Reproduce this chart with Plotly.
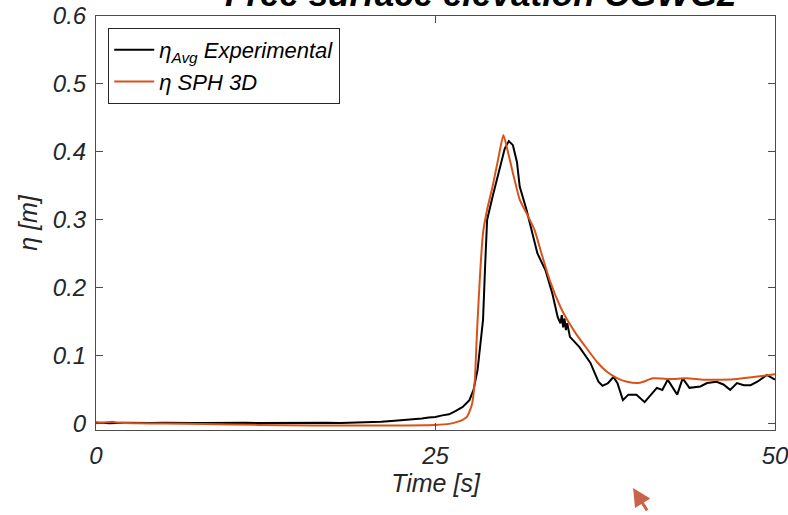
import plotly.graph_objects as go

# ---- data ----
t_exp = [0, 1, 2, 3, 4, 5, 6, 7, 8, 9, 10, 11, 12, 13, 14, 15, 16, 17, 18, 19,
         20, 21, 22, 23, 23.5, 24, 24.5, 25, 25.5, 26, 26.5, 27, 27.5, 27.8, 28.1,
         28.3, 28.5, 28.65, 28.8, 29.2, 29.7, 30.1, 30.4, 30.7, 31.0, 31.2, 31.7,
         32.1, 32.5, 33.1, 33.6, 34.0, 34.2, 34.3, 34.4, 34.5, 34.6, 34.7, 34.9,
         35.6, 36.4, 37.0, 37.3, 37.7, 38.1, 38.4, 38.8, 39.2, 39.8, 40.4, 40.9,
         41.3, 41.7, 42.1, 42.8, 43.2, 43.7, 44.5, 45.0, 45.7, 46.2, 46.7, 47.2,
         47.7, 48.2, 48.7, 49.4, 50]
eta_exp = [0.002, 0.001, 0.0015, 0.001, 0.0012, 0.0015, 0.001, 0.0013, 0.0012, 0.0015,
           0.0012, 0.0017, 0.0013, 0.0015, 0.0012, 0.0017, 0.0013, 0.0018, 0.0014, 0.0018,
           0.0025, 0.0032, 0.0045, 0.006, 0.0075, 0.008, 0.0095, 0.010, 0.0125, 0.014,
           0.019, 0.025, 0.035, 0.050, 0.080, 0.120, 0.153, 0.230, 0.300, 0.334, 0.373,
           0.405, 0.416, 0.410, 0.385, 0.349, 0.315, 0.281, 0.251, 0.226, 0.192, 0.157,
           0.148, 0.160, 0.142, 0.155, 0.138, 0.148, 0.128, 0.113, 0.090, 0.062, 0.056,
           0.060, 0.069, 0.060, 0.035, 0.043, 0.043, 0.032, 0.043, 0.053, 0.050, 0.065,
           0.043, 0.067, 0.053, 0.055, 0.060, 0.062, 0.058, 0.050, 0.060, 0.057, 0.057,
           0.062, 0.072, 0.065]

t_sph = [0, 0.6, 1.2, 1.8, 3, 5, 8, 12, 16, 20, 25, 26, 26.6, 27.0, 27.3, 27.5, 27.7,
         27.9, 28.0, 28.1, 28.3, 28.5, 28.8, 29.2, 29.6, 30.0, 30.3, 30.7, 31.2, 31.7,
         32.3, 32.8, 33.4, 34.2, 34.7, 35.4, 36.1, 36.9, 37.6, 38.4, 39.1, 39.9, 40.3,
         41.0, 42.3, 43.5, 44.7, 46.0, 47.2, 48.4, 50.0]
eta_sph = [0.001, 0.002, 0.003, 0.0015, 0.001, 0.0005, 0.0, -0.0015, -0.0025, -0.0025,
           -0.0015, 0.0, 0.003, 0.006, 0.010, 0.018, 0.030, 0.065, 0.110, 0.153, 0.226,
           0.281, 0.315, 0.349, 0.388, 0.425, 0.403, 0.369, 0.330, 0.310, 0.285, 0.251,
           0.212, 0.172, 0.153, 0.131, 0.112, 0.091, 0.077, 0.067, 0.062, 0.060, 0.062,
           0.067, 0.066, 0.067, 0.065, 0.065, 0.066, 0.069, 0.073]

x_ticks = [0, 25, 50]
y_ticks = [0, 0.1, 0.2, 0.3, 0.4, 0.5, 0.6]
y_tick_labels = ["0", "0.1", "0.2", "0.3", "0.4", "0.5", "0.6"]

FONT = "Liberation Sans, Arial, sans-serif"
TXT = "#262626"

fig = go.Figure()
fig.add_trace(go.Scatter(x=t_exp, y=eta_exp, mode="lines",
                         name="η<sub>Avg</sub> Experimental",
                         line=dict(color="#000000", width=2)))
fig.add_trace(go.Scatter(x=t_sph, y=eta_sph, mode="lines",
                         name="η SPH 3D",
                         line=dict(color="#D95319", width=2, shape="spline", smoothing=0.5)))

axis_common = dict(showline=True, linecolor="#4d4d4d", linewidth=1, mirror="ticks",
                   ticks="inside", ticklen=7, tickcolor="#4d4d4d", showgrid=False,
                   zeroline=False, automargin=False, ticklabeloverflow="allow",
                   tickfont=dict(family=FONT, size=24, color=TXT, style="italic"))

fig.update_xaxes(range=[0, 50], tickvals=x_ticks, ticktext=[str(v) for v in x_ticks],
                 ticklabelstandoff=4,
                 title=dict(text="Time [s]", font=dict(family=FONT, size=25, color=TXT, style="italic"),
                            standoff=4),
                 **axis_common)
fig.update_yaxes(range=[-0.009, 0.6], tickvals=y_ticks, ticktext=y_tick_labels,
                 ticklabelstandoff=4,
                 title=dict(text="η [m]", font=dict(family=FONT, size=25, color=TXT, style="italic"),
                            standoff=8),
                 **axis_common)

fig.update_layout(
    width=788, height=515,
    margin=dict(l=96, r=13, t=16, b=85),
    plot_bgcolor="white", paper_bgcolor="white",
    showlegend=True,
    legend=dict(x=0.018, y=0.971, xanchor="left", yanchor="top",
                bgcolor="white", bordercolor="#262626", borderwidth=1,
                font=dict(family=FONT, size=22, color="#000000", style="italic"),
                tracegroupgap=0, itemwidth=40),
    annotations=[
        dict(text="<b>Free surface elevation CGWG2</b>", xref="paper", yref="paper",
             x=0.567, y=1.0, xanchor="center", yanchor="bottom", yshift=1,
             showarrow=False,
             font=dict(family=FONT, size=35, color="#000000", style="italic")),
        dict(text="", xref="paper", yref="paper", x=0.791, y=-0.14,
             ax=15, ay=24, showarrow=True, arrowhead=2, arrowsize=1.2,
             arrowwidth=3, arrowcolor="#c8644a"),
    ],
)

fig.write_html("out.html", config={"displayModeBar": False},
               post_script="document.body.style.margin='0';")
